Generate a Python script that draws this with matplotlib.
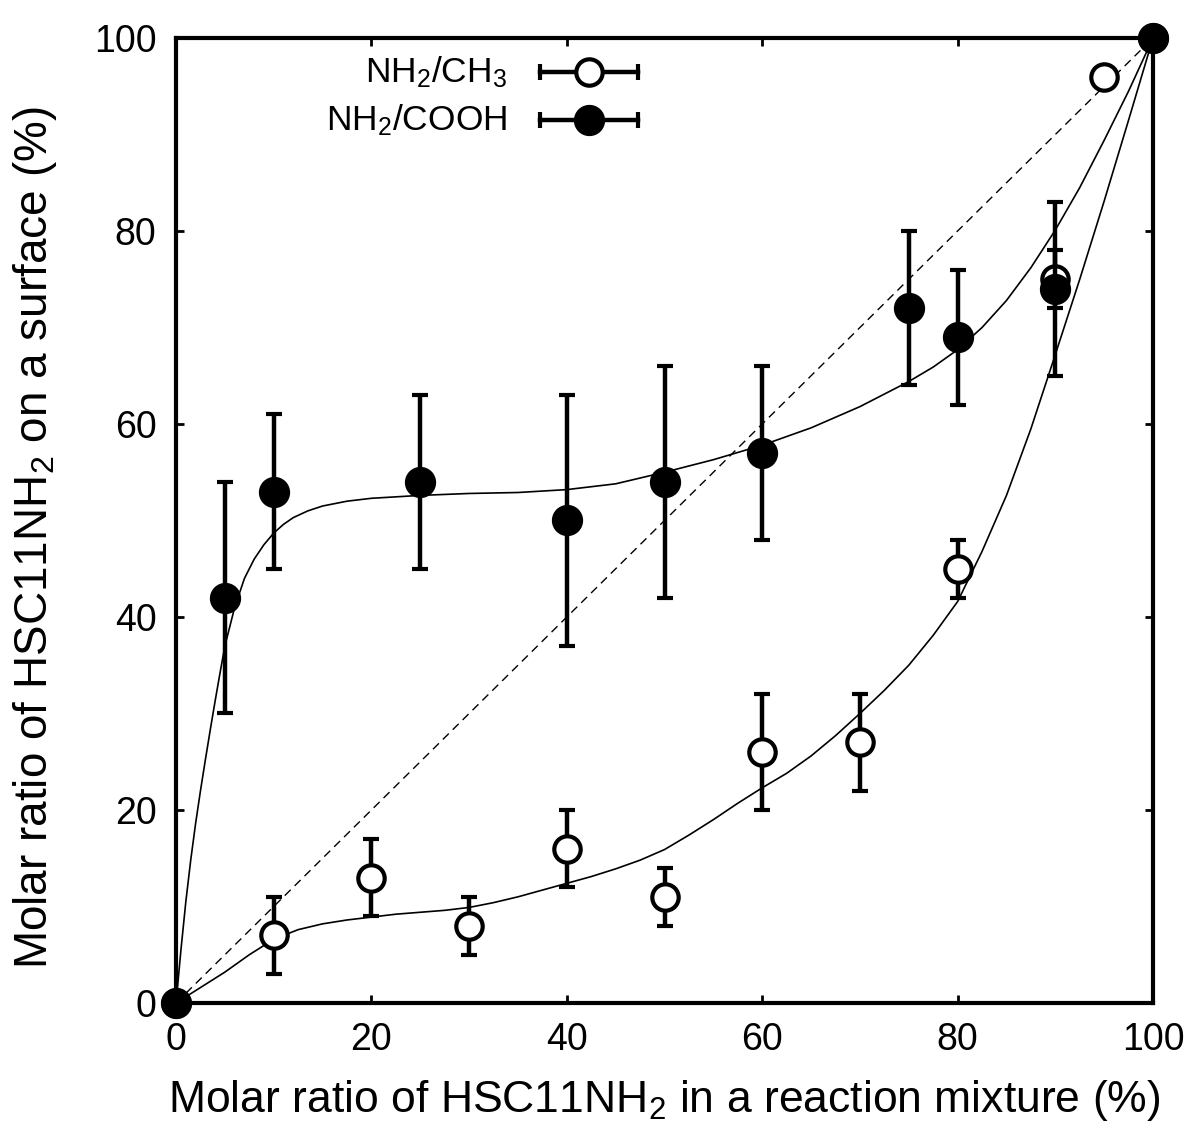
import matplotlib
matplotlib.use("Agg")
import matplotlib.pyplot as plt

plt.rcParams['font.family'] = ['Liberation Sans', 'DejaVu Sans']
plt.rcParams['mathtext.fontset'] = 'custom'
plt.rcParams['mathtext.rm'] = 'Liberation Sans'
plt.rcParams['mathtext.default'] = 'regular'

# NH2/CH3 mixed monolayer
ch3_x = [0, 10, 20, 30, 40, 50, 60, 70, 80, 90, 95, 100]
ch3_y = [0, 7, 13, 8, 16, 11, 26, 27, 45, 75, 96, 100]
ch3_err = [0, 4, 4, 3, 4, 3, 6, 5, 3, 3, 0.4, 0]

# NH2/COOH mixed monolayer
cooh_x = [0, 5, 10, 25, 40, 50, 60, 75, 80, 90, 100]
cooh_y = [0, 42, 53, 54, 50, 54, 57, 72, 69, 74, 100]
cooh_err = [0, 12, 8, 9, 13, 12, 9, 8, 7, 9, 0]

# fitted trend curves
ch3_fit_x = [0, 2.5, 5, 7.5, 10, 12.5, 15, 17.5, 20, 22.5, 25, 27.5, 30, 32.5,
             35, 37.5, 40, 42.5, 45, 47.5, 50, 52.5, 55, 57.5, 60, 62.5, 65,
             67.5, 70, 72.5, 75, 77.5, 80, 82.5, 85, 87.5, 90, 92.5, 95, 97.5,
             100]
ch3_fit_y = [0, 1.6, 3.2, 5.0, 6.6, 7.6, 8.2, 8.6, 8.9, 9.2, 9.4, 9.6, 9.9,
             10.4, 11.0, 11.7, 12.4, 13.1, 13.9, 14.8, 15.9, 17.4, 19.0, 20.7,
             22.3, 23.8, 25.6, 27.7, 30.0, 32.4, 35.0, 38.1, 41.6, 46.8, 52.6,
             59.5, 67.2, 75.0, 83.1, 91.5, 100]
cooh_fit_x = [0, 0.5, 1, 1.5, 2, 2.5, 3, 3.5, 4, 4.5, 5, 6, 7, 8, 9, 10, 11,
              12, 13.5, 15, 17.5, 20, 25, 30, 35, 40, 45, 50, 55, 60, 65, 70,
              75, 77.5, 80, 82.5, 85, 87.5, 90, 92.5, 95, 97.5, 100]
cooh_fit_y = [0, 5.5, 10.5, 14.8, 18.6, 22.0, 25.2, 28.3, 31.3, 34.2, 37.0,
              41.0, 44.0, 46.0, 47.5, 48.7, 49.6, 50.3, 51.0, 51.5, 52.0, 52.3,
              52.6, 52.8, 52.9, 53.2, 53.8, 55.0, 56.3, 57.8, 59.6, 61.8, 64.4,
              65.9, 67.7, 70.0, 72.8, 76.2, 80.1, 84.5, 89.4, 94.5, 100]

fig = plt.figure(figsize=(11.92, 11.31), dpi=100)
ax = fig.add_axes([0.1477, 0.1132, 0.8196, 0.8532])

ax.plot([0, 100], [0, 100], color='black', lw=1.0, ls=(0, (6, 4)))
ax.plot(ch3_fit_x, ch3_fit_y, color='black', lw=1.2)
ax.plot(cooh_fit_x, cooh_fit_y, color='black', lw=1.2)

ax.errorbar(ch3_x, ch3_y, yerr=ch3_err, fmt='o', ms=19, mfc='white',
            mec='black', mew=3, ecolor='black', elinewidth=3.2,
            capsize=6, capthick=3, clip_on=False, zorder=3)
ax.errorbar(cooh_x, cooh_y, yerr=cooh_err, fmt='o', ms=21.5, mfc='black',
            mec='black', ecolor='black', elinewidth=3.2,
            capsize=6, capthick=3, clip_on=False, zorder=4)

# key drawn gnuplot-style with horizontal bars
for ky, lab, face in [(0.9648, 'NH$_2$/CH$_3$', 'white'),
                      (0.915, 'NH$_2$/COOH', 'black')]:
    ax.plot([0.3726, 0.473], [ky, ky], transform=ax.transAxes,
            color='black', lw=3.2, zorder=5)
    ax.plot([0.3726, 0.473], [ky, ky], transform=ax.transAxes, ls='none',
            marker='|', ms=12, mew=3, color='black', zorder=5)
    if face == 'white':
        ax.plot([0.4227], [ky], transform=ax.transAxes, marker='o', ms=19,
                mfc='white', mec='black', mew=3, zorder=6)
    else:
        ax.plot([0.4227], [ky], transform=ax.transAxes, marker='o', ms=21.5,
                mfc='black', mec='black', zorder=6)
    ax.text(0.339, ky, lab, transform=ax.transAxes, ha='right', va='center',
            fontsize=25.5)

ax.set_xlim(0, 100)
ax.set_ylim(0, 100)
ax.set_xticks([0, 20, 40, 60, 80, 100])
ax.set_yticks([0, 20, 40, 60, 80, 100])
ax.tick_params(direction='in', length=6, width=2, top=True, right=True,
               labelsize=27)
ax.tick_params(axis='x', pad=14)
ax.tick_params(axis='y', pad=14)
for sp in ax.spines.values():
    sp.set_linewidth(3)

ax.set_xlabel('Molar ratio of HSC11NH$_2$ in a reaction mixture (%)',
              fontsize=32, labelpad=14)
ax.set_ylabel('Molar ratio of HSC11NH$_2$ on a surface (%)', fontsize=33)
ax.yaxis.set_label_coords(-0.12, 0.482)

fig.savefig('out.png', dpi=100)
